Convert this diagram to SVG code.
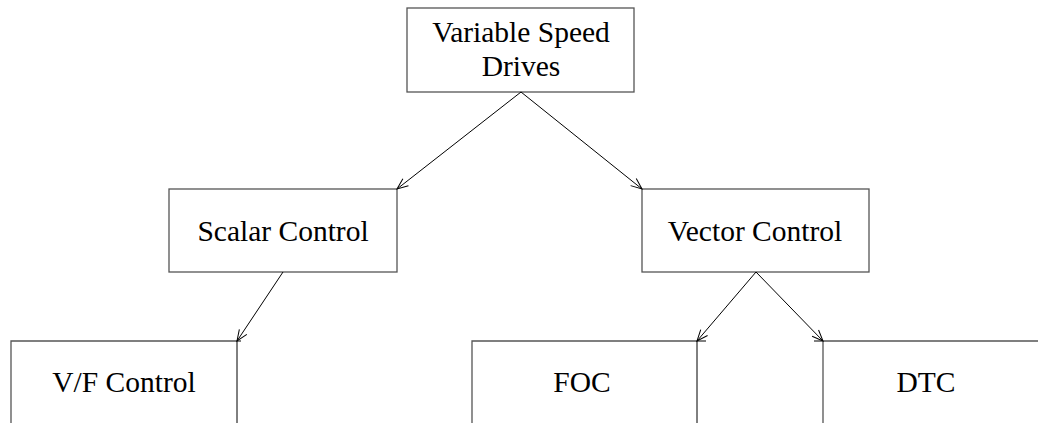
<svg xmlns="http://www.w3.org/2000/svg" width="1038" height="423" viewBox="0 0 1038 423">
<style>
.box{fill:#fff;stroke:#555;stroke-width:1.3}
.edge{fill:none;stroke:#555;stroke-width:1.3}
.conn{fill:none;stroke:#000;stroke-width:1}
text{font-family:"Liberation Serif","Times New Roman",serif;font-size:29.5px;fill:#000;text-anchor:middle}
</style>
<defs>
<marker id="arr" markerUnits="userSpaceOnUse" markerWidth="14" markerHeight="12" viewBox="-12 -6 14 12" refX="0" refY="0" orient="auto">
<path d="M-11,-4.5 L0,0 L-11,4.5" fill="none" stroke="#000" stroke-width="1"/>
</marker>
</defs>
<rect width="1038" height="423" fill="#fff"/>
<g id="node-vsd">
<rect class="box" x="407" y="8" width="227" height="84"/>
<text x="521" y="42">Variable Speed</text>
<text x="521" y="76">Drives</text>
</g>
<g id="node-scalar">
<rect class="box" x="169" y="189" width="228" height="83"/>
<text x="283" y="241">Scalar Control</text>
</g>
<g id="node-vector">
<rect class="box" x="642" y="189" width="227" height="83"/>
<text x="755" y="241">Vector Control</text>
</g>
<g id="node-vf">
<path class="edge" d="M11,424 L11,341 L241,341"/>
<text x="124" y="392">V/F Control</text>
</g>
<g id="node-foc">
<path class="edge" d="M472,424 L472,341 L706,341"/>
<text x="582" y="392">FOC</text>
</g>
<g id="node-dtc">
<path class="edge" d="M814,341 L1040,341 M823,341 L823,424"/>
<text x="926" y="392">DTC</text>
</g>
<g id="connectors">
<line class="conn" x1="521" y1="92" x2="397" y2="189" marker-end="url(#arr)"/>
<line class="conn" x1="521" y1="92" x2="642" y2="189" marker-end="url(#arr)"/>
<line class="conn" x1="283" y1="272" x2="237" y2="341" marker-end="url(#arr)"/>
<line class="conn" x1="756" y1="272" x2="697" y2="341" marker-end="url(#arr)"/>
<line class="conn" x1="756" y1="272" x2="823" y2="341" marker-end="url(#arr)"/>
<line class="conn" x1="237" y1="341" x2="237" y2="424"/>
<line class="conn" x1="697" y1="341" x2="697" y2="424"/>
</g>
</svg>
